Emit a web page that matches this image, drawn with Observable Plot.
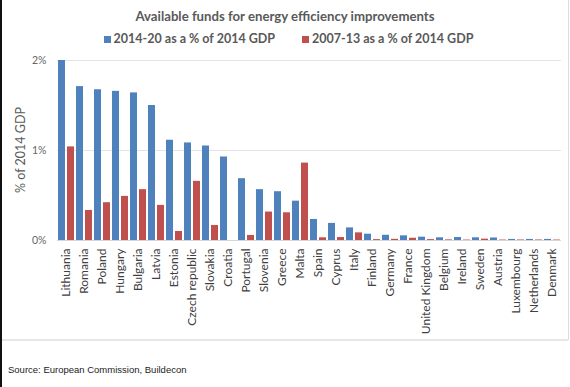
<!DOCTYPE html>
<html>
<head>
<meta charset="utf-8">
<script src="https://cdn.jsdelivr.net/npm/d3@7"></script>
<script src="https://cdn.jsdelivr.net/npm/@observablehq/plot@0.6"></script>
<style>
  html, body { margin: 0; padding: 0; background: #fff; }
  #wrap { position: relative; width: 570px; height: 387px; background: #fff; overflow: hidden; }
  #lborder { position: absolute; left: 0; top: 0; width: 2px; height: 387px; background: #111; }
  #rborder { position: absolute; right: 1px; top: 0; width: 1px; height: 340px; background: #ddd; }
  #title { position: absolute; top: 6px; left: 0; width: 570px; text-align: center; font: bold 13.2px Lato, sans-serif; color: #595959; line-height: 20px; }
  #legend { position: absolute; top: 30px; left: 0; width: 577px; text-align: center; font: bold 12.5px Lato, sans-serif; color: #595959; line-height: 18px; white-space: nowrap; }
  #legend span.item { display: inline-block; margin: 0 13.5px; }
  #legend span.sw { display: inline-block; width: 7px; height: 7px; margin-right: 3px; vertical-align: 0px; }
  #chart { position: absolute; top: 50px; left: 0; }
  #rule { position: absolute; top: 339px; left: 2px; width: 566px; height: 2px; background: #e6e6e6; }
  #source { position: absolute; top: 364px; left: 8px; font: 9.5px "Liberation Sans", Arial, sans-serif; color: #222; }
</style>
</head>
<body>
<div id="wrap">
  <div id="title"></div>
  <div id="legend"></div>
  <div id="chart"></div>
  <div id="rule"></div>
  <div id="source"></div>
  <div id="lborder"></div>
  <div id="rborder"></div>
</div>
<script>
const titleText = "Available funds for energy efficiency improvements";
const sourceText = "Source: European Commission, Buildecon";
const yLabel = "% of 2014 GDP";
const series = ["2014-20 as a % of 2014 GDP", "2007-13 as a % of 2014 GDP"];
const seriesColors = ["#4F81BD", "#C0504D"];
const countries = ["Lithuania", "Romania", "Poland", "Hungary", "Bulgaria", "Latvia", "Estonia",
  "Czech republic", "Slovakia", "Croatia", "Portugal", "Slovenia", "Greece", "Malta", "Spain",
  "Cyprus", "Italy", "Finland", "Germany", "France", "United Kingdom", "Belgium", "Ireland",
  "Sweden", "Austria", "Luxembourg", "Netherlands", "Denmark"];
const funds2014_20 = [2.0, 1.71, 1.675, 1.657, 1.64, 1.50, 1.114, 1.084, 1.05, 0.928, 0.687, 0.565,
  0.542, 0.437, 0.234, 0.19, 0.14, 0.07, 0.058, 0.052, 0.037, 0.03, 0.033, 0.03, 0.028, 0.012, 0.012, 0.012];
const funds2007_13 = [1.04, 0.334, 0.42, 0.49, 0.565, 0.39, 0.10, 0.657, 0.167, 0, 0.056, 0.316,
  0.308, 0.86, 0.03, 0.033, 0.085, 0.01, 0.013, 0.025, 0.01, 0.007, 0.005, 0.015, 0.005, 0.006, 0.006, 0.005];
const yTicks = [0, 1, 2];

const data = [];
countries.forEach((c, i) => {
  data.push({country: c, series: series[0], value: funds2014_20[i]});
  data.push({country: c, series: series[1], value: funds2007_13[i]});
});

document.getElementById("title").textContent = titleText;
document.getElementById("source").textContent = sourceText;
const legend = document.getElementById("legend");
series.forEach((s, i) => {
  const item = document.createElement("span");
  item.className = "item";
  const sw = document.createElement("span");
  sw.className = "sw";
  sw.style.background = seriesColors[i];
  item.appendChild(sw);
  item.appendChild(document.createTextNode(s));
  legend.appendChild(item);
});

const plot = Plot.plot({
  width: 570,
  height: 290,
  marginLeft: 55,
  marginRight: 8,
  marginTop: 10,
  marginBottom: 100,
  style: {fontFamily: "Lato, sans-serif", background: "transparent"},
  fx: {domain: countries, padding: 0, label: null},
  x: {domain: series, paddingInner: 0.25, paddingOuter: 0.125, axis: null},
  y: {domain: [0, 2], label: null},
  color: {domain: series, range: seriesColors},
  marks: [
    Plot.ruleY([1, 2], {stroke: "#e4e4e4"}),
    Plot.ruleY([0], {stroke: "#d6d6d6"}),
    Plot.barY(data, {fx: "country", x: "series", y: "value", fill: "series"}),
    Plot.axisY({ticks: yTicks, tickFormat: d => d + "%", tickSize: 0, tickPadding: 11, fontSize: 10.5, fill: "#666", label: null}),
    Plot.axisFx({anchor: "bottom", tickRotate: -90, tickSize: 0, tickPadding: 8, fontSize: 12, fill: "#404040", label: null})
  ]
});
document.getElementById("chart").appendChild(plot);

d3.select(plot).append("text")
  .attr("transform", "translate(22,100) rotate(-90)")
  .attr("text-anchor", "middle")
  .attr("dominant-baseline", "middle")
  .attr("font-family", "Lato, sans-serif")
  .attr("font-size", 12.5)
  .attr("fill", "#595959")
  .text(yLabel);
</script>
</body>
</html>
